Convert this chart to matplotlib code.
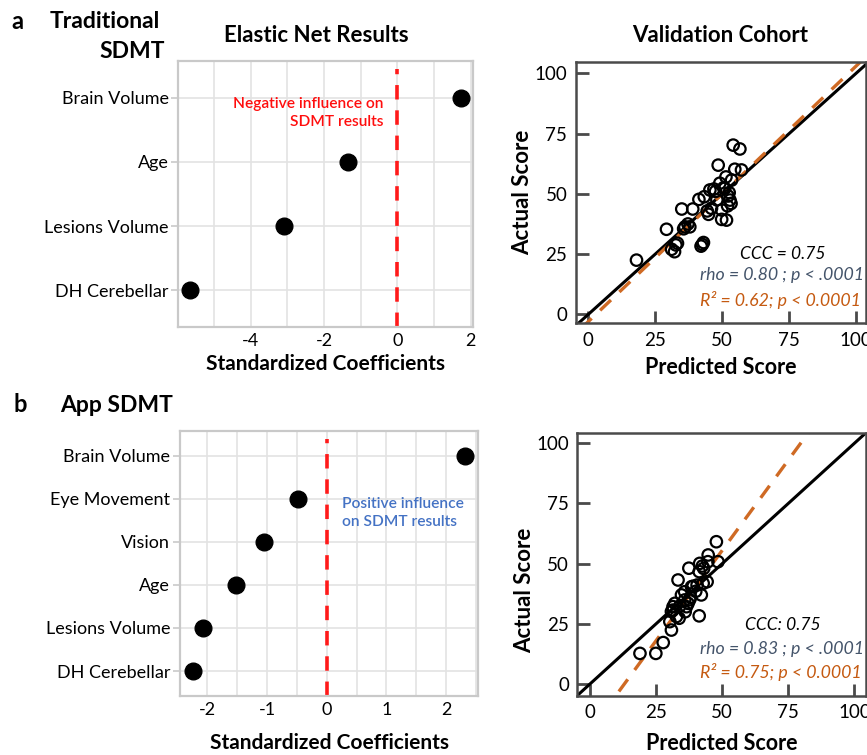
import matplotlib
matplotlib.use("Agg")
import matplotlib.pyplot as plt
import numpy as np

plt.rcParams['font.family'] = ['Lato', 'DejaVu Sans']

# ---- Elastic net coefficients ----
trad_features = ["Brain Volume", "Age", "Lesions Volume", "DH Cerebellar"]
trad_coefs = [1.73, -1.34, -3.10, -5.64]

app_features = ["Brain Volume", "Eye Movement", "Vision", "Age", "Lesions Volume", "DH Cerebellar"]
app_coefs = [2.32, -0.49, -1.06, -1.52, -2.08, -2.25]

# ---- Validation cohort: predicted vs actual ----
trad_pred = [18.0, 29.2, 31.1, 32.2, 32.7, 33.3, 34.9, 35.6, 36.1, 37.2, 37.9, 39.0,
             41.3, 42.1, 42.6, 43.0, 43.3, 44.4, 44.9, 45.4, 46.9, 47.5, 48.5, 49.1,
             49.8, 49.8, 50.5, 51.0, 51.6, 52.0, 52.2, 52.6, 52.9, 53.3, 53.5, 54.1,
             54.7, 56.6, 57.2, 51.4, 48.0, 46.0]
trad_actual = [22.5, 35.3, 27.0, 26.0, 28.8, 29.5, 43.7, 35.5, 36.3, 37.5, 36.3, 43.7,
               47.7, 28.3, 29.0, 29.8, 48.8, 42.9, 41.5, 51.6, 52.0, 51.0, 61.9, 54.4,
               43.3, 39.4, 52.5, 52.3, 39.1, 45.0, 49.1, 50.5, 47.4, 46.0, 55.7, 70.2,
               60.2, 68.6, 59.9, 57.0, 47.5, 44.0]

app_pred = [18.9, 24.9, 27.7, 30.8, 30.2, 32.7, 31.4, 32.1, 34.0, 37.1, 34.6, 35.8,
            38.4, 41.3, 42.1, 40.5, 33.3, 37.4, 41.3, 41.5, 44.6, 42.8, 44.3, 47.8,
            48.4, 44.7, 42.5, 39.0, 36.5, 35.8, 37.7, 33.7, 31.4, 30.8, 43.0, 40.0,
            36.0, 38.0]
app_actual = [12.7, 12.7, 17.2, 22.4, 25.9, 28.0, 30.7, 33.5, 32.4, 33.5, 37.0, 38.3,
              40.4, 28.3, 37.0, 41.1, 43.2, 48.1, 46.7, 50.1, 50.8, 41.8, 42.5, 59.1,
              50.8, 53.6, 49.0, 40.6, 32.1, 34.9, 35.0, 27.3, 32.1, 30.1, 48.0, 38.5,
              30.0, 36.0]

# regression fits (slope, intercept)
trad_fit = (1.06, -3.0)
app_fit = (1.50, -19.5)

trad_stats = ["CCC = 0.75", "rho = 0.80 ; p < .0001", "R\u00b2 = 0.62; p < 0.0001"]
app_stats = ["CCC: 0.75", "rho = 0.83 ; p < .0001", "R\u00b2 = 0.75; p < 0.0001"]

W, H = 867, 755
fig = plt.figure(figsize=(W / 100, H / 100), dpi=100)


def px_axes(left, top, right, bottom):
    return fig.add_axes([left / W, 1 - bottom / H, (right - left) / W, (bottom - top) / H])


def ftext(x, y, s, **kw):
    fig.text(x / W, 1 - y / H, s, **kw)


GRID = '#e3e3e3'
FRAME = '#c9c9c9'


def coef_panel(ax, feats, coefs, xlim, grid_step, label_ticks):
    n = len(feats)
    ypos = list(range(n))
    ax.set_xlim(*xlim)
    ax.set_ylim(n - 1 + 0.58, -0.58)
    gx = np.arange(np.ceil(xlim[0] / grid_step) * grid_step, xlim[1], grid_step)
    for g in gx:
        ax.axvline(g, color=GRID, lw=1.2, zorder=0)
    for y in ypos:
        ax.axhline(y, color=GRID, lw=1.2, zorder=0)
    ax.axvline(0, color='#ff1a1a', lw=2.6, ls=(0, (4, 3)), ymax=0.97, zorder=2)
    ax.plot(coefs, ypos, 'o', color='black', ms=12, zorder=3)
    ax.set_yticks(ypos)
    ax.set_yticklabels(feats, fontsize=13)
    ax.set_xticks(label_ticks)
    ax.set_xticklabels([f"{t:g}" for t in label_ticks], fontsize=13)
    ax.tick_params(axis='x', length=0, pad=4)
    ax.tick_params(axis='y', length=5, color=FRAME, width=1.2, pad=2)
    for s in ax.spines.values():
        s.set_color(FRAME)
        s.set_linewidth(1.6)
    ax.grid(False)


def scatter_panel(ax, pred, actual, fit, xlim, ylim, stats, stat_pos, ylab_y):
    ax.set_xlim(*xlim)
    ax.set_ylim(*ylim)
    ax.plot([-10, 120], [-10, 120], color='black', lw=2.2, zorder=2)
    ax.plot([-10, 120], [fit[0] * -10 + fit[1], fit[0] * 120 + fit[1]],
            color='#cf6a24', lw=2.4, ls=(0, (4.5, 3.5)), zorder=2)
    ax.scatter(pred, actual, s=68, facecolors='none', edgecolors='black',
               linewidths=1.6, zorder=3)
    ax.set_xticks([0, 25, 50, 75, 100])
    ax.set_yticks([0, 25, 50, 75, 100])
    ax.tick_params(direction='in', length=9, width=2, color='#4a4a4a',
                   labelsize=13.5, pad=6)
    for s in ax.spines.values():
        s.set_color('#4a4a4a')
        s.set_linewidth(1.8)
    (cx, cy), (rx, ry), (qx, qy) = stat_pos
    ax.text(cx, cy, stats[0], style='italic', fontsize=12.5, color='black',
            ha='center', va='center', clip_on=False)
    ax.text(rx, ry, stats[1], style='italic', fontsize=12.8, color='#44546a',
            ha='left', va='center', clip_on=False)
    ax.text(qx, qy, stats[2], style='italic', fontsize=12.8, color='#c55a11',
            ha='left', va='center', clip_on=False)
    ax.set_ylabel("Actual Score", fontsize=16, fontweight='bold', labelpad=1, y=ylab_y)


# ---- panel a ----
ax1 = px_axes(178.3, 60.7, 473.3, 327.3)
coef_panel(ax1, trad_features, trad_coefs, (-5.97, 2.07), 1, [-4, -2, 0, 2])
ax1.text(-0.38, 0.24, "Negative influence on\nSDMT results", color='#ff0d0d',
         fontsize=11.2, fontweight='semibold', ha='right', va='center', linespacing=1.35)
ax1.set_xlabel("Standardized Coefficients", fontsize=15, fontweight='bold', labelpad=4)

ax2 = px_axes(575.7, 61.7, 865.5, 323.3)
scatter_panel(ax2, trad_pred, trad_actual, trad_fit, (-4.7, 103.5), (-3.7, 104.8),
              trad_stats, [(72.6, 25.0), (41.6, 16.3), (41.6, 5.9)], 0.5)
ax2.set_xlabel("Predicted Score", fontsize=15.5, fontweight='bold', labelpad=6)

# ---- panel b ----
ax3 = px_axes(180, 430.7, 478.3, 696)
coef_panel(ax3, app_features, app_coefs, (-2.46, 2.54), 0.5, [-2, -1, 0, 1, 2])
ax3.text(0.26, 1.33, "Positive influence\non SDMT results", color='#4472c4',
         fontsize=11.2, fontweight='semibold', ha='left', va='center', linespacing=1.35)
ax3.set_xlabel("Standardized Coefficients", fontsize=15, fontweight='bold', labelpad=11)

ax4 = px_axes(577.3, 432.7, 865.5, 696)
scatter_panel(ax4, app_pred, app_actual, app_fit, (-4.8, 104.2), (-5.0, 104.4),
              app_stats, [(72.8, 24.5), (41.5, 14.5), (41.5, 5.0)], 0.40)
ax4.set_xlabel("Predicted Score", fontsize=15.5, fontweight='bold', labelpad=8.5)

# ---- headings ----
ftext(17, 29, "a", fontsize=17, fontweight='bold', ha='center', va='baseline')
ftext(160, 28, "Traditional", fontsize=16.5, fontweight='bold', ha='right', va='baseline')
ftext(165, 58, "SDMT", fontsize=16.5, fontweight='bold', ha='right', va='baseline')
ftext(316, 36, "Elastic Net Results", fontsize=16, fontweight='bold', ha='center', va='center')
ftext(720, 36, "Validation Cohort", fontsize=16, fontweight='bold', ha='center', va='center')
ftext(20, 412, "b", fontsize=17, fontweight='bold', ha='center', va='baseline')
ftext(60, 412, "App SDMT", fontsize=16.5, fontweight='bold', ha='left', va='baseline')

fig.savefig("out.png", dpi=100, facecolor='white')
